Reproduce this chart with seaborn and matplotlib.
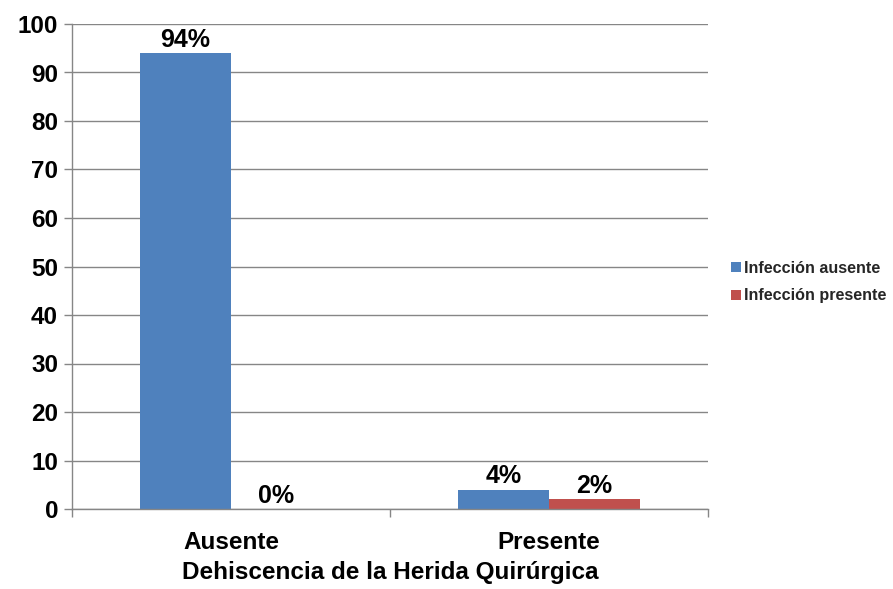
import matplotlib
matplotlib.use("Agg")
import matplotlib.pyplot as plt
import seaborn as sns
import pandas as pd
from matplotlib.ticker import FixedLocator

categories = ["Ausente", "Presente"]
series_names = ["Infección ausente", "Infección presente"]
infeccion_ausente = [94, 4]
infeccion_presente = [0, 2]
y_ticks = [0, 10, 20, 30, 40, 50, 60, 70, 80, 90, 100]
x_title = "Dehiscencia de la Herida Quirúrgica"
colors = ["#4F81BD", "#C0504D"]

rows = []
for cat, a, p in zip(categories, infeccion_ausente, infeccion_presente):
    rows.append({"cat": cat, "serie": series_names[0], "val": a})
    rows.append({"cat": cat, "serie": series_names[1], "val": p})
df = pd.DataFrame(rows)

sns.set_theme(style="white")
plt.rcParams["font.family"] = ["Liberation Sans", "DejaVu Sans"]
plt.rcParams["font.weight"] = "bold"

fig = plt.figure(figsize=(8.93, 5.89), dpi=100)
ax = fig.add_axes([72/893, 1-509/589, (708-72)/893, (509-24)/589])

sns.barplot(data=df, x="cat", y="val", hue="serie", order=categories,
            hue_order=series_names, palette=colors, width=0.572, gap=0,
            saturation=1, ax=ax, legend=True, linewidth=0)

ax.set_ylim(0, 100)
ax.set_xlim(-0.5, 1.5)
ax.set_yticks(y_ticks)
ax.yaxis.grid(True, color="#868686", linewidth=1)
ax.set_axisbelow(True)
for s in ["top", "right"]:
    ax.spines[s].set_visible(False)
for s in ["left", "bottom"]:
    ax.spines[s].set_color("#868686")
    ax.spines[s].set_linewidth(1)

ax.tick_params(axis="y", which="major", length=6, color="#868686", width=1,
               labelsize=17.5, pad=4, left=True)
ax.tick_params(axis="x", which="major", length=0, labelsize=17.5, pad=16)
ax.xaxis.set_minor_locator(FixedLocator([-0.5, 0.5, 1.5]))
ax.tick_params(axis="x", which="minor", length=6, color="#868686", width=1, bottom=True)
for lab in ax.get_xticklabels() + ax.get_yticklabels():
    lab.set_fontweight("bold")
    lab.set_color("black")

ax.set_ylabel("")
ax.set_xlabel(x_title, fontsize=17.5, fontweight="bold", color="black", labelpad=5)

for cont in ax.containers:
    for rect in cont:
        h = rect.get_height()
        ax.annotate(f"{h:.0f}%", (rect.get_x() + rect.get_width()/2, h),
                    xytext=(0, 1), textcoords="offset points", ha="center",
                    va="bottom", fontsize=18, fontweight="bold", color="black")

leg = ax.legend(loc="center left", bbox_to_anchor=(723/893, 1-282/589),
                bbox_transform=fig.transFigure, frameon=False,
                handlelength=0.6, handleheight=0.6, handletextpad=0.2,
                labelspacing=0.8, borderpad=0, prop={"size": 11.6, "weight": "bold"})

fig.savefig("out.png", dpi=100)
